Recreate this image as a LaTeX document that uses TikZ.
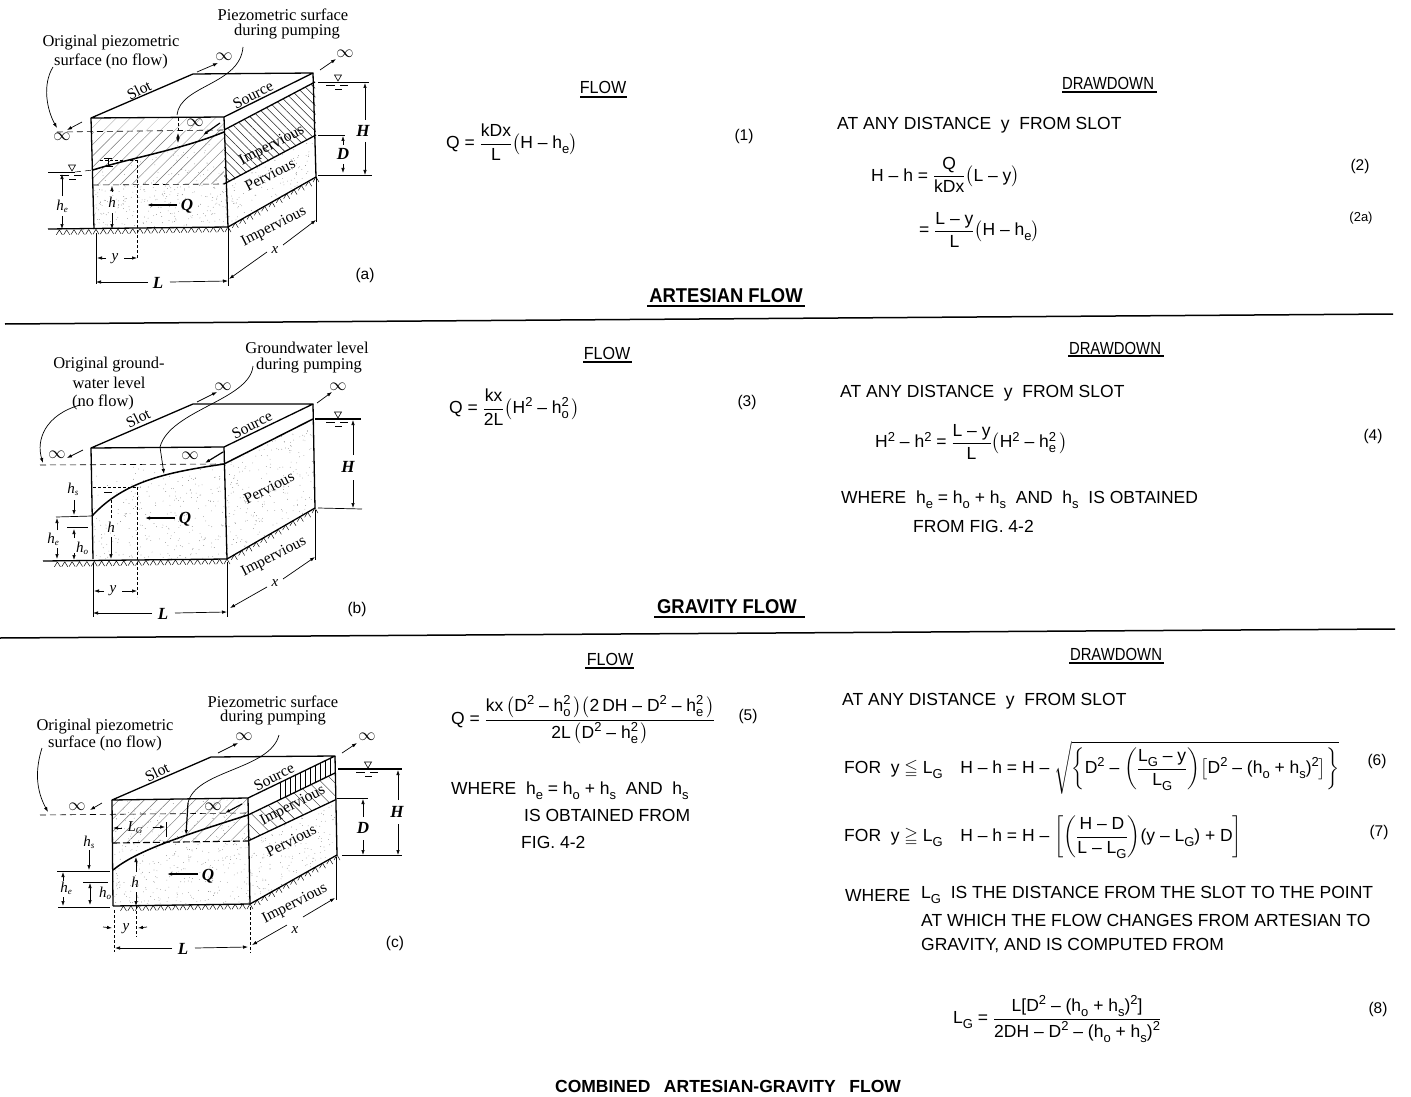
\documentclass[tikz,border=0pt]{standalone}
\usepackage{amssymb}
\usepackage{fontspec}
\usepackage{graphicx}
\setmainfont{Liberation Sans}
\newfontfamily\lblfont{Liberation Serif}
\usetikzlibrary{arrows.meta,patterns.meta,calc}
\newcommand\eqfont{\fontsize{17.5}{21}\selectfont}
\newcommand\numfont{\fontsize{15.5}{19}\selectfont}
\newcommand\lb{\fontsize{16.5}{19}\lblfont}
\newcommand\rlb{\fontsize{15.5}{18}\lblfont}
\newcommand\sbx[1]{\raisebox{-5pt}{\fontsize{13}{14}\selectfont #1}}
\newcommand\spx[1]{\raisebox{6.5pt}{\fontsize{13}{14}\selectfont #1}}
\newcommand\sps[2]{\rlap{\spx{#1}}\sbx{#2}}
\newcommand\frc[2]{$\displaystyle\frac{\hbox{#1}}{\hbox{#2}}$}
\newcommand\dl[3]{$\left#1\hbox{\rule[-5pt]{0pt}{19pt}#2}\right#3$}
\newcommand\he{\textit{h}\raisebox{-2pt}{\fontsize{9}{9}\selectfont\textit{e}}}
\newcommand\hs{\textit{h}\raisebox{-2pt}{\fontsize{9}{9}\selectfont\textit{s}}}
\newcommand\ho{\textit{h}\raisebox{-2pt}{\fontsize{9}{9}\selectfont\textit{o}}}
\tikzset{
 x=1pt,y=-1pt,
 eq/.style={anchor=west,inner sep=0pt,font=\eqfont,yshift=-1pt},
 cen/.style={anchor=center,inner sep=0pt,font=\numfont},
 lbl/.style={anchor=center,inner sep=0pt,font=\lb},
 rlbl/.style={anchor=center,inner sep=0pt,font=\rlb,rotate=27},
 sym/.style={anchor=center,inner sep=0pt,font=\fontsize{17}{17}\lblfont\bfseries\itshape},
 smsym/.style={anchor=center,inner sep=0pt,font=\fontsize{15}{15}\lblfont\itshape},
 bx/.style={line width=1.3pt,line join=round},
 thin1/.style={line width=.7pt},
 wtr/.style={line width=1.5pt},
 dsh/.style={line width=.6pt,dash pattern=on 6pt off 4pt},
 dsv/.style={line width=.5pt,dash pattern=on 3pt off 2pt},
 arw/.style={line width=.7pt,-{Latex[length=5pt,width=3.5pt]}},
 dar/.style={line width=.7pt,{Latex[length=5pt,width=3.5pt]}-{Latex[length=5pt,width=3.5pt]}},
 ult/.style={line width=1.2pt},
 hatchf/.style={pattern={Lines[angle=45,distance=8pt,line width=.45pt]},pattern color=black!55},
 hatchl/.style={pattern={Lines[angle=45,distance=10pt,line width=.35pt]},pattern color=black!35},
 hatchr/.style={pattern={Lines[angle=-45,distance=6pt,line width=.55pt]},pattern color=black!85},
 hatchv/.style={pattern={Lines[angle=90,distance=5pt,line width=.9pt]},pattern color=black},
}
% random stipple inside a closed region
\newcommand\stip[6]{\begin{scope}\clip #1;
 \foreach \k in {1,...,#2}{\pgfmathsetmacro\rx{#3+rnd*#5}\pgfmathsetmacro\ry{#4+rnd*#6}
 \fill[black!60] (\rx,\ry) circle (.35pt);}\end{scope}}
% zigzag ground marks between two named coordinates
\newcommand\ground[3]{\foreach \k in {1,...,#3}{
 \pgfmathsetmacro\ff{\k/#3}
 \draw[line width=.45pt] ($(#1)!\ff!(#2)$) ++(0,0) -- ++(-3,5) ++(3,-5) -- ++(3,5);}}
% water level mark
\newcommand\wmark[2]{\draw[line width=.6pt] (#1-3.5,#2-6) -- (#1+3.5,#2-6) -- (#1,#2) -- cycle;
 \draw[line width=.5pt] (#1-12,#2+4) -- (#1-3,#2+4) (#1+2,#2+4) -- (#1+10,#2+4) (#1-3,#2+8) -- (#1+4,#2+8);}
\begin{document}
\begin{tikzpicture}
\useasboundingbox (0,0) rectangle (1411,1097);
\pgfmathsetseed{42}
% ======= page rules
\coordinate (r1a) at (5,324); \coordinate (r1b) at (1393,314);
\coordinate (r2a) at (0,638); \coordinate (r2b) at (1395,629);
\draw[line width=1.5pt] (r1a) -- (r1b);
\draw[line width=1.5pt] (r2a) -- (r2b);

% ======= (a)
\coordinate (aA) at (91,118); \coordinate (aB) at (224,117); \coordinate (aC) at (313,73); \coordinate (aD) at (193,74);
\coordinate (aE) at (94,229); \coordinate (aF) at (228,227); \coordinate (aG) at (316,177);
\coordinate (aP) at (224,130); \coordinate (aPr) at (315,82);
\coordinate (aI) at (224,184); \coordinate (aIr) at (316,135);
\coordinate (aDl) at (93,185);
\coordinate (aCv) at (93,170);
\coordinate (aCr) at (224,132);
\stip{(aDl)--(aI)--(aF)--(aE)--cycle}{280}{90}{180}{140}{50}
\stip{(aI)--(aIr)--(aG)--(aF)--cycle}{260}{224}{130}{94}{100}
\stip{(aCv)--(aCr)--(aI)--(aDl)--cycle}{100}{90}{130}{140}{56}
\fill[hatchl] (aA) -- (aB) -- (aP) -- (92,132) -- cycle;
\fill[hatchf] (92,132) -- (aP) -- (aI) -- (aDl) -- cycle;
\fill[hatchr] (aP) -- (aPr) -- (aIr) -- (aI) -- cycle;
\draw[bx] (aA) -- (aD) -- (aC) -- (aB) -- cycle;
\draw[bx] (aA) -- (aE);
\draw[bx] (aB) -- (aF);
\draw[bx] (aC) -- (aG);
\draw[bx] (aF) -- (aG);
\draw[bx] (aP) -- (aPr);
\draw[bx] (aI) -- (aIr);
\draw[wtr] (aCv) .. controls (130,158) and (180,150) .. (aCr);
\coordinate (ag0) at (48,229); \draw[bx] (ag0) -- (aF);
\coordinate (ag1) at (52,230); \ground{ag1}{aF}{24}
\ground{aF}{aG}{12}
\coordinate (ad1) at (57,132); \draw[dsh] (ad1) -- (aP);
\draw[dsh] (aDl) -- (aI);
\draw[dsh,line width=.5pt] (75,172) -- (aCv);
\coordinate (ale) at (48,172); \coordinate (alr) at (75,172); \draw[thin1] (ale) -- (alr);
\wmark{72}{171}
\coordinate (ahe1) at (62,174); \coordinate (ahe2) at (62,229);
\draw[arw] (62,196) -- (ahe1); \draw[arw] (62,216) -- (ahe2);
\node[smsym] (ahe) at (62,206) {\he};
\node[smsym] (ah) at (112,202) {\textit{h}};
\draw[arw] (112,213) -- (112,229); \draw[arw] (112,192) -- (112,186);
\coordinate (ahv1) at (137,160); \coordinate (ahv2) at (137,258); \draw[dsv] (ahv1) -- (ahv2);
\draw[dsv] (100,160) -- (ahv1);
\draw[thin1] (104,158) -- (112,158) (108,158) -- (108,165) (103,166) -- (113,166);
\coordinate (av1) at (178,118); \coordinate (av2) at (178,143); \draw[dsv] (av1) -- (178,132); \draw[dar] (178,133) -- (av2);
\draw[arw,line width=1.1pt] (177,205) -- (147,205);
\node[sym] (aQ) at (187,206) {Q};
\draw[arw] (106,258) -- (97,258); \draw[arw] (124,258) -- (137,258);
\node[smsym] (ay) at (115,259) {y};
\draw[thin1] (96,233) -- (96,284); \draw[thin1] (228,227) -- (228,286);
\draw[arw] (148,282) -- (96,282); \draw[arw] (170,282) -- (228,281);
\node[sym] (aL) at (158,283) {L};
\draw[thin1] (aG) -- (316,222);
\draw[arw] (267,252) -- (229,279); \draw[arw] (283,245) -- (316,220);
\node[smsym] (ax) at (275,250) {x};
\coordinate (aw1) at (318,82); \coordinate (aw2) at (369,82); \draw[thin1] (aw1) -- (aw2);
\wmark{338}{81}
\coordinate (aw3) at (318,175); \coordinate (aw4) at (372,175); \draw[thin1] (aw3) -- (aw4);
\coordinate (aw5) at (318,135); \coordinate (aw6) at (345,135); \draw[thin1] (aw5) -- (aw6);
\draw[arw] (365,120) -- (365,83); \draw[arw] (365,142) -- (365,175);
\node[sym] (aH) at (363,131) {H};
\draw[arw] (343,145) -- (343,136); \draw[arw] (343,164) -- (343,173);
\node[sym] (aD2) at (343,154) {D};
\draw[arw] (82,122) -- (67,130); \node[lbl] (ai1) at (62,137) {$\infty$};
\draw[arw] (197,72) -- (218,63); \node[lbl] (ai2) at (224,57) {$\infty$};
\draw[arw] (320,70) -- (336,59); \node[lbl] (ai3) at (345,54) {$\infty$};
\draw[arw,line width=1.2pt] (220,123) -- (203,135); \node[lbl] (ai4) at (195,123) {$\infty$};
\node[lbl] (at1) at (283,15) {Piezometric surface};
\node[lbl] (at2) at (287,32) {during pumping};
\node[lbl] (at3) at (111,43) {Original piezometric};
\node[lbl] (at4) at (111,61) {surface (no flow)};
\coordinate (al1) at (243,47); \coordinate (al2) at (177,115);
\draw[thin1] (al1) .. controls (240,85) and (180,85) .. (al2);
\coordinate (al3) at (53,67); \coordinate (al4) at (57,128);
\draw[arw] (al3) .. controls (42,85) and (47,110) .. (al4);
\node[rlbl] (ar1) at (139,90) {Slot};
\node[rlbl] (ar2) at (253,95) {Source};
\node[rlbl] (ar3) at (272,146) {Impervious};
\node[rlbl] (ar4) at (270,175) {Pervious};
\node[rlbl] (ar5) at (274,227) {Impervious};
\node[cen] (afa) at (365,275) {(a)};

% ======= (b)
\coordinate (bA) at (91,448); \coordinate (bB) at (224,447); \coordinate (bC) at (313,404); \coordinate (bD) at (193,404);
\coordinate (bE) at (93,559); \coordinate (bF) at (227,559); \coordinate (bG) at (315,508);
\coordinate (bP) at (224,464); \coordinate (bPr) at (313,419);
\coordinate (bCv) at (92,516);
\stip{(bCv) .. controls (125,480) and (170,472) .. (bP) -- (bF) -- (bE) -- cycle}{320}{90}{460}{140}{100}
\stip{(93,466) -- (bP) .. controls (170,472) and (125,480) .. (bCv) -- cycle}{60}{90}{460}{140}{60}
\stip{(bP)--(bPr)--(bG)--(bF)--cycle}{340}{224}{415}{94}{146}
\draw[bx] (bA) -- (bD) -- (bC) -- (bB) -- cycle;
\draw[bx] (bA) -- (bE);
\draw[bx] (bB) -- (bF);
\draw[bx] (bC) -- (bG);
\draw[bx] (bF) -- (bG);
\draw[wtr] (bP) -- (bPr);
\draw[wtr] (bCv) .. controls (125,480) and (170,472) .. (bP);
\coordinate (bg0) at (43,561); \draw[bx] (bg0) -- (bF);
\coordinate (bg1) at (50,562); \ground{bg1}{bF}{24}
\ground{bF}{bG}{12}
\coordinate (bd1) at (40,465); \draw[dsh] (bd1) -- (bP);
\coordinate (bw1) at (315,419); \coordinate (bw2) at (361,419); \draw[wtr] (bw1) -- (bw2);
\wmark{338}{418}
\coordinate (bw3) at (318,508); \coordinate (bw4) at (362,509); \draw[thin1] (bw3) -- (bw4);
\draw[arw] (353,455) -- (353,420); \draw[arw] (353,480) -- (353,508);
\node[sym] (bH) at (348,467) {H};
\coordinate (bl1) at (56,517); \draw[thin1] (bl1) -- (bCv);
\coordinate (bl2) at (67,527); \coordinate (bl3) at (88,527); \draw[thin1] (bl2) -- (bl3);
\node[smsym] (bhs) at (73,489) {\hs};
\draw[arw] (74,500) -- (74,515);
\node[smsym] (bhe) at (53,539) {\he};
\draw[arw] (57,530) -- (57,518); \draw[arw] (57,548) -- (57,559);
\node[smsym] (bho) at (82,548) {\ho};
\draw[arw] (74,538) -- (74,529); \draw[arw] (74,553) -- (74,560);
\node[smsym] (bh) at (111,527) {\textit{h}};
\draw[arw] (111,537) -- (111,559); \draw[dsv] (111,500) -- (111,518);
\draw[thin1] (104,492) -- (112,492);
\coordinate (bhv1) at (137,487); \coordinate (bhv2) at (137,597); \draw[dsv] (bhv1) -- (bhv2); \draw[dsv] (93,487) -- (bhv1);
\draw[arw,line width=1.1pt] (175,518) -- (145,518);
\node[sym] (bQ) at (185,519) {Q};
\draw[arw] (104,591) -- (94,591); \draw[arw] (122,591) -- (137,591);
\node[smsym] (by) at (113,591) {y};
\draw[thin1] (93,563) -- (93,617); \draw[thin1] (227,562) -- (227,617);
\draw[arw] (152,613) -- (93,613); \draw[arw] (175,613) -- (227,612);
\node[sym] (bL) at (163,614) {L};
\draw[thin1] (315,510) -- (315,560);
\draw[arw] (267,587) -- (230,608); \draw[arw] (283,579) -- (315,557);
\node[smsym] (bx) at (275,583) {x};
\draw[arw] (83,450) -- (67,458); \node[lbl] (bi1) at (57,455) {$\infty$};
\draw[arw] (197,402) -- (217,392); \node[lbl] (bi2) at (223,387) {$\infty$};
\draw[arw] (317,403) -- (332,392); \node[lbl] (bi3) at (338,387) {$\infty$};
\draw[arw,line width=1.2pt] (223,452) -- (205,463); \node[lbl] (bi4) at (190,456) {$\infty$};
\node[lbl] (bt1) at (307,348) {Groundwater level};
\node[lbl] (bt2) at (309,366) {during pumping};
\node[lbl] (bt3) at (109,365) {Original ground-};
\node[lbl] (bt4) at (109,383) {water level};
\node[lbl] (bt5) at (103,402) {(no flow)};
\coordinate (bl4) at (253,366); \coordinate (bl5) at (160,447); \coordinate (bl6) at (164,474);
\draw[thin1] (bl4) .. controls (250,400) and (170,410) .. (bl5);
\draw[arw] (bl5) -- (bl6);
\coordinate (bl7) at (80,405); \coordinate (bl8) at (43,463);
\draw[arw] (bl7) .. controls (45,415) and (36,440) .. (bl8);
\node[rlbl] (br1) at (138,418) {Slot};
\node[rlbl] (br2) at (252,425) {Source};
\node[rlbl] (br4) at (269,488) {Pervious};
\node[rlbl] (br5) at (274,557) {Impervious};
\node[cen] (bfb) at (357,609) {(b)};

% ======= (c)
\coordinate (cA) at (112,800); \coordinate (cB) at (248,798); \coordinate (cC) at (335,756); \coordinate (cD) at (211,757);
\coordinate (cE) at (113,906); \coordinate (cF) at (250,904); \coordinate (cG) at (337,855);
\coordinate (cS) at (248,815); \coordinate (cSr) at (335,773);
\coordinate (cI) at (248,841); \coordinate (cIr) at (335,800);
\coordinate (cJl) at (113,843);
\coordinate (cCv) at (113,870);
\stip{(cJl)--(cI)--(cF)--(cE)--cycle}{300}{110}{840}{142}{70}
\stip{(cI)--(cIr)--(cG)--(cF)--cycle}{280}{248}{798}{90}{110}
\stip{(cA)--(cB)--(cI)--(cJl)--cycle}{120}{110}{798}{140}{46}
\fill[hatchf,pattern={Lines[angle=45,distance=9pt,line width=.4pt]}] (cA) -- (cB) -- (cI) -- (cJl) -- cycle;
\fill[hatchr,pattern={Lines[angle=-45,distance=9pt,line width=.4pt]}] (cS) -- (cSr) -- (cIr) -- (cI) -- cycle;
\fill[hatchv] (278,783.5) -- (cC) -- (cSr) -- (278,800.5) -- cycle;
\draw[bx] (cA) -- (cD) -- (cC) -- (cB) -- cycle;
\draw[bx] (cA) -- (cE);
\draw[bx] (cB) -- (cF);
\draw[bx] (cC) -- (cG);
\draw[bx] (cF) -- (cG);
\draw[bx] (cS) -- (cSr);
\draw[bx] (cI) -- (cIr);
\draw[wtr] (cCv) .. controls (135,852) and (175,838) .. (cS);
\draw[bx] (cE) -- (cF);
\coordinate (cg1) at (116,906); \ground{cg1}{cF}{18}
\ground{cF}{cG}{12}
\coordinate (cd1) at (40,815); \draw[dsh] (cd1) -- (248,813);
\draw[line width=1.1pt,dash pattern=on 7pt off 3pt] (cJl) -- (cI);
\coordinate (cw1) at (338,769); \coordinate (cw2) at (402,769); \draw[wtr] (cw1) -- (cw2);
\wmark{368}{768}
\coordinate (cw3) at (342,855); \coordinate (cw4) at (402,855); \draw[thin1] (cw3) -- (cw4);
\coordinate (cw5) at (337,798); \coordinate (cw6) at (368,798); \draw[thin1] (cw5) -- (cw6);
\draw[arw] (398,800) -- (398,770); \draw[arw] (398,824) -- (398,855);
\node[sym] (cH) at (397,812) {H};
\draw[arw] (363,817) -- (363,799); \draw[arw] (363,840) -- (363,855);
\node[sym] (cD2) at (363,828) {D};
\node[smsym] (chs) at (89,842) {\hs};
\draw[arw] (89,850) -- (89,870);
\coordinate (cl1) at (57,871); \coordinate (cl2) at (110,871); \draw[thin1] (cl1) -- (cl2);
\coordinate (cl3) at (83,882); \coordinate (cl4) at (108,882); \draw[thin1] (cl3) -- (cl4);
\coordinate (cl5) at (58,907); \coordinate (cl6) at (110,907); \draw[thin1] (cl5) -- (cl6);
\node[smsym] (che) at (66,888) {\he};
\draw[arw] (63,881) -- (63,872); \draw[arw] (63,897) -- (63,906);
\node[smsym] (cho) at (105,893) {\ho};
\draw[dar] (90,883) -- (90,905);
\node[smsym] (cLg) at (135,828) {\textit{L}\raisebox{-2pt}{\fontsize{9}{9}\selectfont\textit{G}}};
\draw[arw] (122,828) -- (113,828); \draw[arw] (153,827) -- (165,827);
\draw[thin1] (166,822) -- (166,837);
\node[smsym] (ch) at (135,882) {\textit{h}};
\draw[arw] (136,872) -- (136,857); \draw[arw] (136,892) -- (136,906);
\draw[dsv] (136,906) -- (136,937);
\draw[arw,line width=1.1pt] (198,874) -- (167,874);
\node[sym] (cQ) at (208,876) {Q};
\draw[arw] (103,927) -- (112,928); \draw[arw] (147,927) -- (138,928);
\node[smsym] (cy) at (126,929) {y};
\draw[dsv] (114,910) -- (114,952);
\draw[dsv] (250,907) -- (250,953);
\draw[arw] (172,948) -- (115,948); \draw[arw] (195,948) -- (248,947);
\node[sym] (cL) at (183,949) {L};
\draw[thin1] (336,857) -- (336,900);
\draw[arw] (287,925) -- (252,945); \draw[arw] (303,917) -- (335,898);
\node[smsym] (cx) at (295,930) {x};
\draw[arw] (102,803) -- (90,810); \node[lbl] (ci1) at (77,807) {$\infty$};
\draw[arw] (218,753) -- (238,743); \node[lbl] (ci2) at (244,737) {$\infty$};
\draw[arw] (342,753) -- (357,743); \node[lbl] (ci3) at (367,737) {$\infty$};
\draw[arw,line width=1.2pt] (242,804) -- (225,813); \node[lbl] (ci4) at (213,807) {$\infty$};
\node[lbl] (ct1) at (273,702) {Piezometric surface};
\node[lbl] (ct2) at (273,718) {during pumping};
\node[lbl] (ct3) at (105,727) {Original piezometric};
\node[lbl] (ct4) at (105,743) {surface (no flow)};
\coordinate (cl7) at (279,735); \coordinate (cl8) at (188,803); \coordinate (cl9) at (186,835);
\draw[thin1] (cl7) .. controls (270,770) and (195,770) .. (cl8);
\draw[arw,line width=1.2pt] (cl8) -- (cl9);
\coordinate (cl10) at (42,748); \coordinate (cl11) at (48,812);
\draw[arw] (cl10) .. controls (35,770) and (36,790) .. (cl11);
\node[rlbl] (cr1) at (157,772) {Slot};
\node[rlbl] (cr2) at (274,777) {Source};
\node[rlbl] (cr3) at (293,806) {Impervious};
\node[rlbl] (cr4) at (291,841) {Pervious};
\node[rlbl] (cr5) at (295,904) {Impervious};
\node[cen] (cfc) at (395,943) {(c)};

% ======= headings
\node[cen,font=\fontsize{20}{20}\selectfont\bfseries] (hA) at (726,296) {\scalebox{.92}[1]{ARTESIAN FLOW}};
\node[cen,font=\fontsize{20}{20}\selectfont\bfseries] (hG) at (727,607) {\scalebox{.92}[1]{GRAVITY FLOW}};
\node[cen,font=\fontsize{17.5}{18}\selectfont\bfseries] (hC) at (728,1086) {COMBINED\hspace{.5em} ARTESIAN-GRAVITY\hspace{.5em} FLOW};
\draw[ult] (647,306) -- (805,306);
\draw[ult] (654,617) -- (805,617);
\foreach \n/\xx/\yy/\xa/\xb/\yu in {f1/603/87/580/627/97,f2/607/353/583/632/362,f3/610/659/585/634/668}{
 \node[cen,font=\eqfont] (\n) at (\xx,\yy) {\scalebox{.92}[1]{FLOW}};
 \draw[ult] (\xa,\yu) -- (\xb,\yu);}
\foreach \n/\xx/\yy/\xa/\xb/\yu in {d1/1108/83/1062/1157/92,d2/1115/348/1068/1164/356,d3/1116/654/1069/1164/663}{
 \node[cen,font=\eqfont] (\n) at (\xx,\yy) {\scalebox{.85}[1]{DRAWDOWN}};
 \draw[ult] (\xa,\yu) -- (\xb,\yu);}

% ======= formulas (a)
\node[eq] (e1) at (446,141) {Q = \frc{kDx}{L}\dl({H -- h\sbx{e}})};
\node[cen] (n1) at (744,136) {(1)};
\node[eq] (t1) at (837,124) {AT ANY DISTANCE\ \ y\ \ FROM SLOT};
\node[eq] (e2) at (871,174) {H -- h = \frc{Q}{kDx}\dl({L -- y})};
\node[cen] (n2) at (1360,166) {(2)};
\node[eq] (e2a) at (919,229) {= \frc{L -- y}{L}\dl({H -- h\sbx{e}})};
\node[cen] (n2a) at (1361,218) {\fontsize{13}{13}\selectfont(2a)};
% ======= formulas (b)
\node[eq] (e3) at (449,406) {Q = \frc{kx}{2L}\dl({H\spx{2} -- h\sps{2}{o}\,})};
\node[cen] (n3) at (747,402) {(3)};
\node[eq] (t2) at (840,392) {AT ANY DISTANCE\ \ y\ \ FROM SLOT};
\node[eq] (e4) at (875,441) {H\spx{2} -- h\spx{2} = \frc{L -- y}{L}\dl({H\spx{2} -- h\sps{2}{e}\,})};
\node[cen] (n4) at (1373,436) {(4)};
\node[eq] (t3) at (841,499) {WHERE\ \ h\sbx{e} = h\sbx{o} + h\sbx{s}\ \ AND\ \ h\sbx{s}\ \ IS OBTAINED};
\node[eq] (t4) at (913,525) {FROM FIG. 4-2};
% ======= formulas (c)
\node[eq] (e5) at (451,719) {Q = \frc{kx\,\dl({D\spx{2} -- h\sps{2}{o}\,})\dl({2\,DH -- D\spx{2} -- h\sps{2}{e}\,})}{2L\,\dl({D\spx{2} -- h\sps{2}{e}\,})}};
\node[cen] (n5) at (748,716) {(5)};
\node[eq] (t5) at (451,790) {WHERE\ \ h\sbx{e} = h\sbx{o} + h\sbx{s}\ \ AND\ \ h\sbx{s}};
\node[eq] (t6) at (524,814) {IS OBTAINED FROM};
\node[eq] (t7) at (521,841) {FIG. 4-2};
\node[eq] (t8) at (842,700) {AT ANY DISTANCE\ \ y\ \ FROM SLOT};
\node[eq] (e6) at (844,767) {FOR\ \ y $\leqq$ L\sbx{G}\quad H -- h = H -- $\sqrt{\left\{\hbox{D\spx{2} -- \dl({\frc{L\sbx{G} -- y}{L\sbx{G}}})\dl[{D\spx{2} -- (h\sbx{o} + h\sbx{s})\spx{2}}]}\right\}}$};
\node[cen] (n6) at (1377,761) {(6)};
\node[eq] (e7) at (844,836) {FOR\ \ y $\geqq$ L\sbx{G}\quad H -- h = H -- \dl[{\dl({\frc{H -- D}{L -- L\sbx{G}}})(y -- L\sbx{G}) + D}]};
\node[cen] (n7) at (1379,832) {(7)};
\node[eq] (t9) at (845,894) {WHERE};
\node[eq] (t10) at (921,894) {L\sbx{G}\ \ IS THE DISTANCE FROM THE SLOT TO THE POINT};
\node[eq] (t11) at (921,919) {AT WHICH THE FLOW CHANGES FROM ARTESIAN TO};
\node[eq] (t12) at (921,945) {GRAVITY, AND IS COMPUTED FROM};
\node[eq] (e8) at (953,1018) {L\sbx{G} = \frc{L[D\spx{2} -- (h\sbx{o} + h\sbx{s})\spx{2}]}{2DH -- D\spx{2} -- (h\sbx{o} + h\sbx{s})\spx{2}}};
\node[cen] (n8) at (1378,1009) {(8)};
\end{tikzpicture}
\end{document}
